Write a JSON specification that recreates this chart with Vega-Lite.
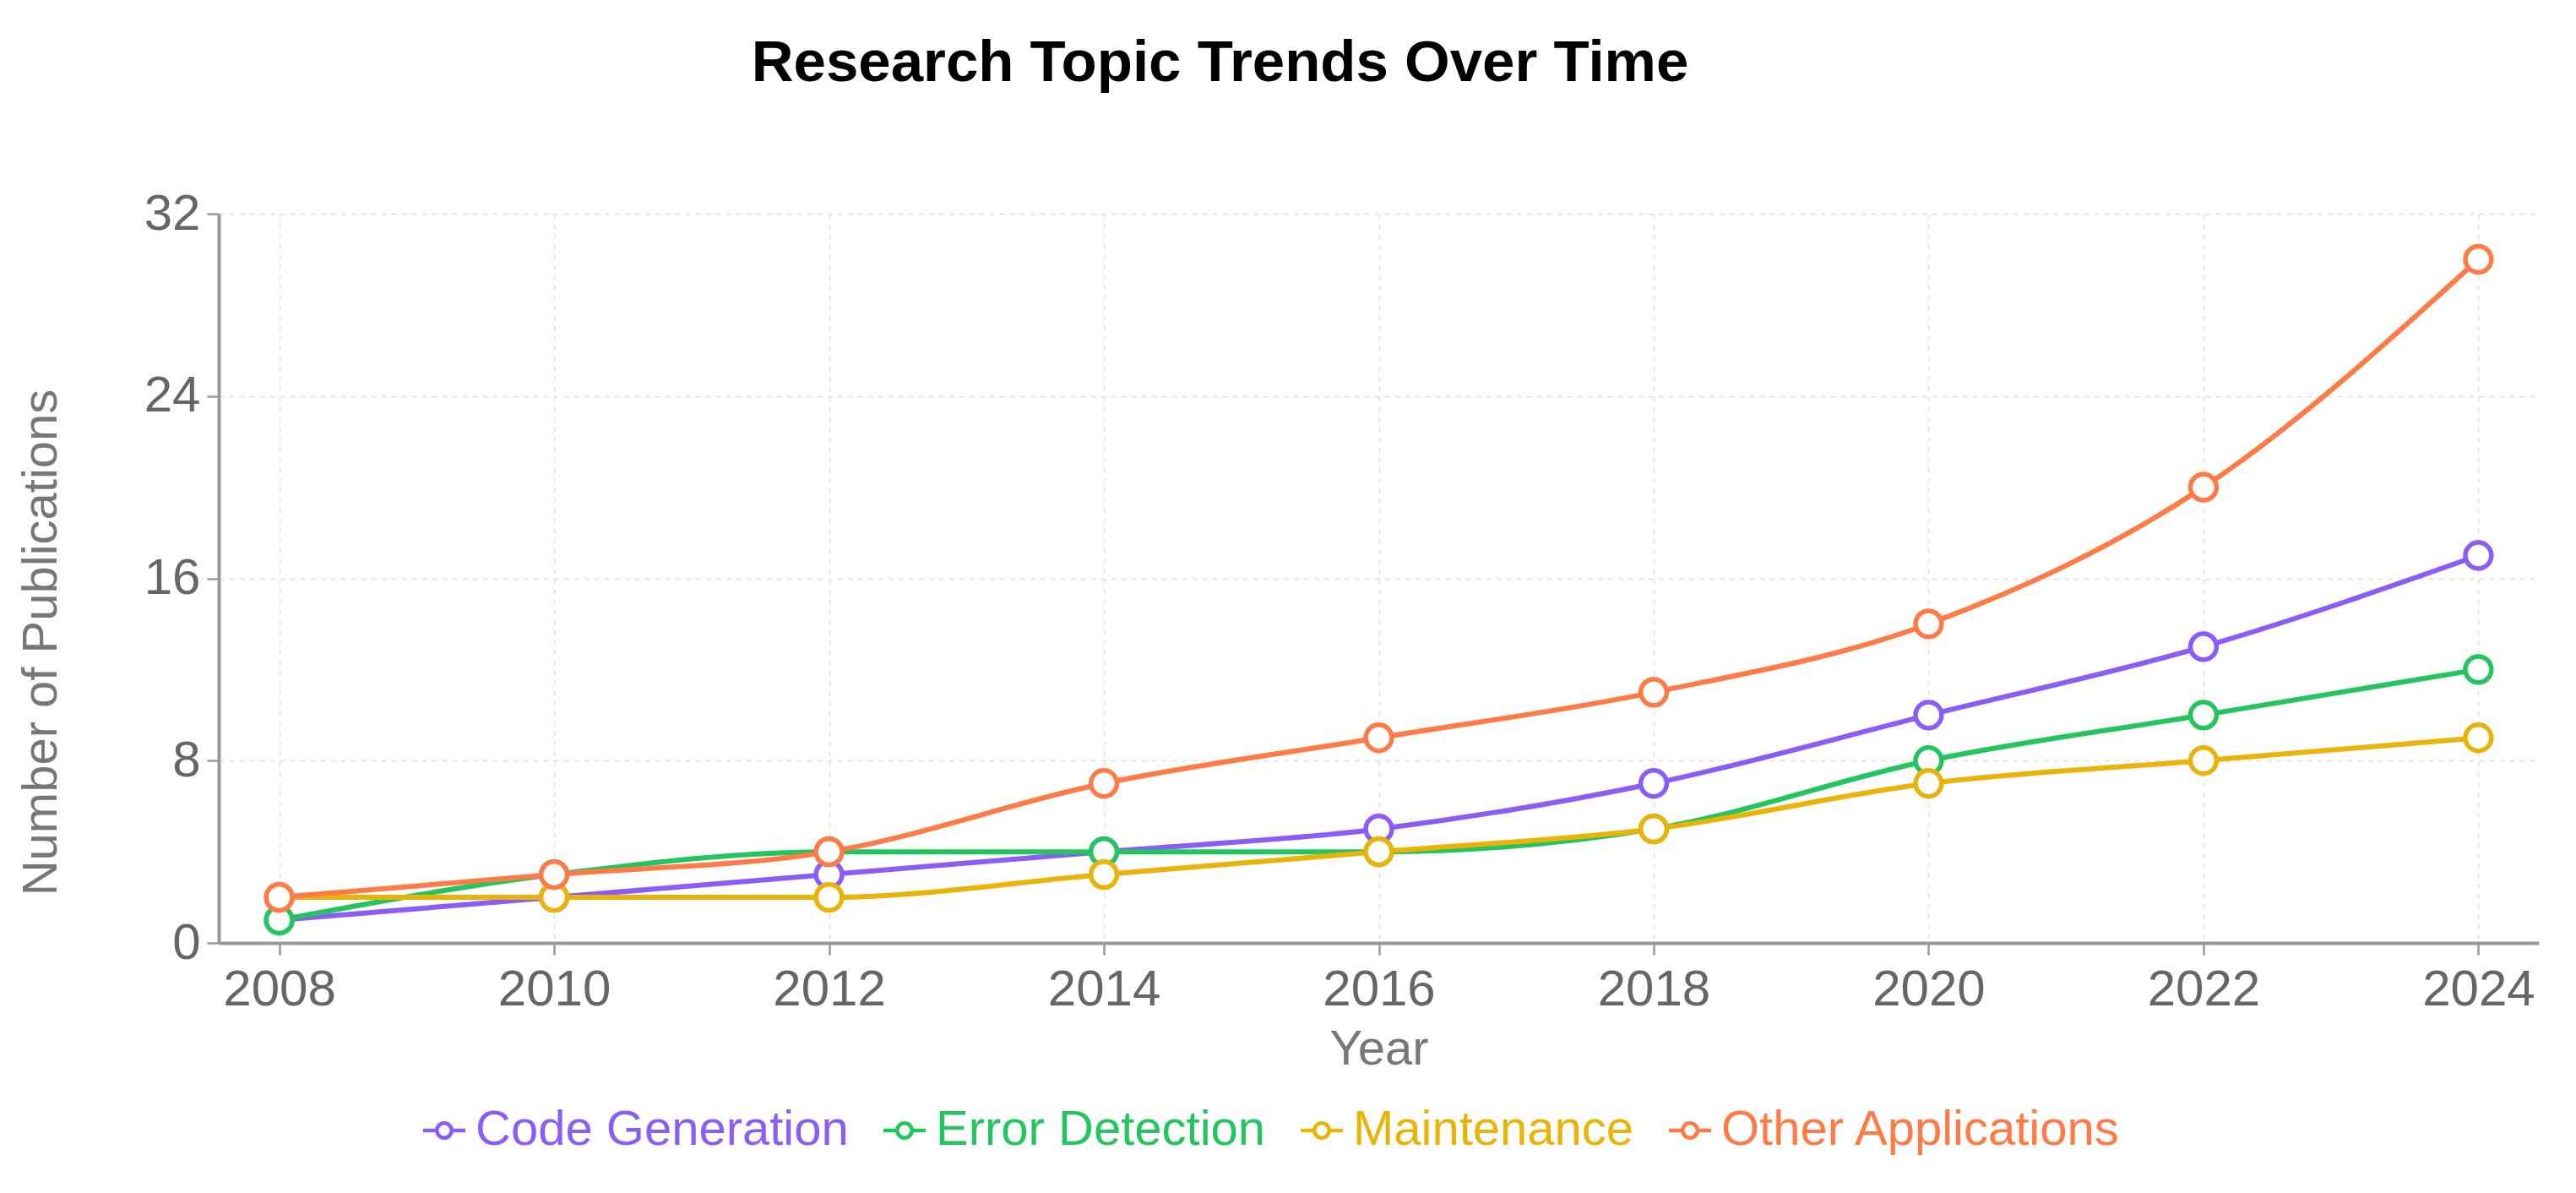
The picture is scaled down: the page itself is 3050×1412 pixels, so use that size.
{
  "$schema": "https://vega.github.io/schema/vega-lite/v6.json",
  "autosize": {"type": "none"},
  "width": 2747,
  "height": 863,
  "padding": {"left": 259, "top": 253, "right": 44, "bottom": 296},
  "background": "white",
  "title": {
    "text": "Research Topic Trends Over Time",
    "font": "Liberation Sans",
    "fontSize": 69,
    "fontWeight": "bold",
    "color": "#000000",
    "anchor": "middle",
    "frame": "group",
    "dx": -188,
    "offset": 113
  },
  "data": {
    "values": [
      {"year": 2008, "topic": "Code Generation", "count": 1},
      {"year": 2010, "topic": "Code Generation", "count": 2},
      {"year": 2012, "topic": "Code Generation", "count": 3},
      {"year": 2014, "topic": "Code Generation", "count": 4},
      {"year": 2016, "topic": "Code Generation", "count": 5},
      {"year": 2018, "topic": "Code Generation", "count": 7},
      {"year": 2020, "topic": "Code Generation", "count": 10},
      {"year": 2022, "topic": "Code Generation", "count": 13},
      {"year": 2024, "topic": "Code Generation", "count": 17},
      {"year": 2008, "topic": "Error Detection", "count": 1},
      {"year": 2010, "topic": "Error Detection", "count": 3},
      {"year": 2012, "topic": "Error Detection", "count": 4},
      {"year": 2014, "topic": "Error Detection", "count": 4},
      {"year": 2016, "topic": "Error Detection", "count": 4},
      {"year": 2018, "topic": "Error Detection", "count": 5},
      {"year": 2020, "topic": "Error Detection", "count": 8},
      {"year": 2022, "topic": "Error Detection", "count": 10},
      {"year": 2024, "topic": "Error Detection", "count": 12},
      {"year": 2008, "topic": "Maintenance", "count": 2},
      {"year": 2010, "topic": "Maintenance", "count": 2},
      {"year": 2012, "topic": "Maintenance", "count": 2},
      {"year": 2014, "topic": "Maintenance", "count": 3},
      {"year": 2016, "topic": "Maintenance", "count": 4},
      {"year": 2018, "topic": "Maintenance", "count": 5},
      {"year": 2020, "topic": "Maintenance", "count": 7},
      {"year": 2022, "topic": "Maintenance", "count": 8},
      {"year": 2024, "topic": "Maintenance", "count": 9},
      {"year": 2008, "topic": "Other Applications", "count": 2},
      {"year": 2010, "topic": "Other Applications", "count": 3},
      {"year": 2012, "topic": "Other Applications", "count": 4},
      {"year": 2014, "topic": "Other Applications", "count": 7},
      {"year": 2016, "topic": "Other Applications", "count": 9},
      {"year": 2018, "topic": "Other Applications", "count": 11},
      {"year": 2020, "topic": "Other Applications", "count": 14},
      {"year": 2022, "topic": "Other Applications", "count": 20},
      {"year": 2024, "topic": "Other Applications", "count": 30}
    ]
  },
  "encoding": {
    "x": {
      "field": "year",
      "type": "quantitative",
      "scale": {"domain": [2007.56, 2024.44], "nice": false, "zero": false},
      "axis": {
        "values": [2008, 2010, 2012, 2014, 2016, 2018, 2020, 2022, 2024],
        "format": "d",
        "title": "Year",
        "titlePadding": 12,
        "labelPadding": 12
      }
    },
    "y": {
      "field": "count",
      "type": "quantitative",
      "scale": {"domain": [0, 32], "nice": false},
      "axis": {
        "values": [0, 8, 16, 24, 32],
        "title": "Number of Publications",
        "titleX": -210,
        "titleY": 507,
        "titleAngle": -90,
        "titleBaseline": "middle",
        "titleAlign": "center"
      }
    },
    "color": {
      "field": "topic",
      "type": "nominal",
      "scale": {
        "domain": ["Code Generation", "Error Detection", "Maintenance", "Other Applications"],
        "range": ["#8b5cf6", "#22c55e", "#eab308", "#ff7a45"]
      },
      "legend": {
        "title": null,
        "orient": "none",
        "direction": "horizontal",
        "legendX": 238,
        "legendY": 1056,
        "symbolType": "M-1,0H-0.35M0.35,0H1M-0.35,0A0.35,0.35 0 1,0 0.35,0A0.35,0.35 0 1,0 -0.35,0",
        "symbolSize": 2500,
        "symbolStrokeWidth": 4.5,
        "symbolFillColor": "white",
        "labelFont": "Liberation Sans",
        "labelFontSize": 58,
        "labelOffset": 8,
        "columnPadding": 32,
        "labelLimit": 0,
        "encode": {
          "labels": {"update": {"fill": {"scale": "color", "field": "value"}}}
        }
      }
    }
  },
  "layer": [
    {
      "mark": {"type": "line", "interpolate": "monotone", "strokeWidth": 6}
    },
    {
      "mark": {"type": "point", "shape": "circle", "size": 950, "filled": false, "fill": "white", "fillOpacity": 1, "strokeWidth": 5.5, "opacity": 1}
    }
  ],
  "config": {
    "view": {"stroke": null},
    "axis": {
      "labelFont": "Liberation Sans",
      "labelFontSize": 60,
      "labelColor": "#666666",
      "titleFont": "Liberation Sans",
      "titleFontSize": 58,
      "titleFontWeight": "normal",
      "titleColor": "#777777",
      "domainColor": "#999999",
      "domainWidth": 4,
      "tickColor": "#999999",
      "tickWidth": 2.5,
      "tickSize": 14,
      "labelPadding": 8,
      "gridColor": "#e6e6e6",
      "gridDash": [6, 6],
      "gridWidth": 2
    }
  }
}
